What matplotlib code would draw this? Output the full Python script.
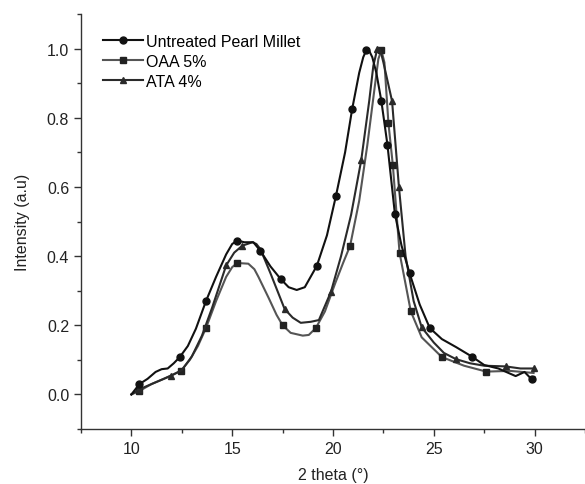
import matplotlib
matplotlib.use("Agg")
import matplotlib.pyplot as plt
from matplotlib.ticker import MultipleLocator

plt.rcParams["font.family"] = ["Liberation Sans", "DejaVu Sans"]

# Untreated Pearl Millet
x_unt = [10.0, 10.4, 10.8, 11.2, 11.5, 11.8, 12.1, 12.4, 12.8, 13.2, 13.7, 14.2,
         14.7, 15.0, 15.25, 15.6, 16.05, 16.4, 16.9, 17.4, 17.8, 18.2, 18.6, 19.2,
         19.7, 20.15, 20.6, 20.95, 21.3, 21.5, 21.65, 21.8, 21.95, 22.15, 22.4, 22.7,
         23.07, 23.4, 23.8, 24.3, 24.8, 25.4, 26.1, 26.9, 27.5, 28.2, 29.06, 29.5,
         29.85, 30.0]
y_unt = [0.0, 0.03, 0.045, 0.065, 0.073, 0.075, 0.09, 0.108, 0.14, 0.19, 0.27, 0.34,
         0.405, 0.435, 0.445, 0.44, 0.44, 0.415, 0.37, 0.334, 0.31, 0.302, 0.31, 0.372,
         0.46, 0.575, 0.70, 0.825, 0.93, 0.975, 0.995, 0.993, 0.975, 0.93, 0.848, 0.722,
         0.522, 0.43, 0.35, 0.26, 0.192, 0.16, 0.137, 0.109, 0.085, 0.075, 0.053, 0.065,
         0.044, 0.05]
mkx_unt = [10.4, 12.4, 13.7, 15.25, 16.4, 17.4, 19.2, 20.15, 20.95, 21.65, 22.4,
           22.7, 23.07, 23.8, 24.8, 26.9, 29.85]

# OAA 5%
x_oaa = [10.0, 10.4, 11.0, 11.6, 12.45, 12.9, 13.3, 13.7, 14.2, 14.7, 15.0, 15.25,
         15.8, 16.1, 16.3, 16.8, 17.2, 17.5, 17.9, 18.5, 18.8, 19.15, 19.6, 20.1, 20.5,
         20.85, 21.3, 21.7, 22.05, 22.25, 22.4, 22.55, 22.75, 22.97, 23.3, 23.86, 24.4,
         25.4, 26.5, 27.6, 28.8, 29.95]
y_oaa = [0.0, 0.01, 0.03, 0.045, 0.068, 0.10, 0.14, 0.192, 0.27, 0.34, 0.368, 0.38,
         0.378, 0.362, 0.34, 0.28, 0.23, 0.20, 0.178, 0.17, 0.172, 0.192, 0.24, 0.32,
         0.38, 0.43, 0.56, 0.72, 0.88, 0.97, 0.995, 0.96, 0.784, 0.662, 0.41, 0.24,
         0.165, 0.108, 0.083, 0.066, 0.068, 0.062]
mkx_oaa = [10.4, 12.45, 13.7, 15.25, 17.5, 19.15, 20.85, 22.4, 22.75, 22.97, 23.3,
           23.86, 25.4, 27.6]

# ATA 4%
x_ata = [10.0, 10.4, 11.0, 11.97, 12.5, 13.0, 13.5, 14.0, 14.7, 15.1, 15.5, 16.0,
         16.2, 16.4, 16.9, 17.6, 18.0, 18.4, 18.9, 19.3, 19.9, 20.4, 20.9, 21.4, 21.8,
         22.0, 22.2, 22.35, 22.5, 22.93, 23.27, 23.6, 24.0, 24.4, 25.0, 25.5, 26.1,
         26.8, 27.5, 28.56, 29.3, 29.95]
y_ata = [0.0, 0.015, 0.03, 0.054, 0.07, 0.11, 0.17, 0.25, 0.373, 0.41, 0.43, 0.44,
         0.435, 0.42, 0.35, 0.247, 0.222, 0.207, 0.21, 0.215, 0.297, 0.40, 0.52, 0.677,
         0.85, 0.95, 1.0, 0.995, 0.96, 0.848, 0.60, 0.40, 0.27, 0.194, 0.15, 0.12,
         0.102, 0.09, 0.083, 0.081, 0.075, 0.075]
mkx_ata = [10.4, 11.97, 14.7, 15.5, 17.6, 19.9, 21.4, 22.2, 22.93, 23.27, 24.4,
           26.1, 28.56, 29.95]

fig = plt.figure(figsize=(5.85, 4.85), dpi=100)
ax = fig.add_axes([81 / 585, 55 / 485, 504 / 585, 415 / 485])

ax.plot(x_unt, y_unt, color="#111111", lw=1.5, marker="o", ms=5,
        markevery=[x_unt.index(v) for v in mkx_unt],
        label="Untreated Pearl Millet", zorder=3)
ax.plot(x_oaa, y_oaa, color="#555555", lw=1.5, marker="s", ms=5,
        mfc="#222222", mec="#222222",
        markevery=[x_oaa.index(v) for v in mkx_oaa], label="OAA 5%", zorder=2)
ax.plot(x_ata, y_ata, color="#2a2a2a", lw=1.5, marker="^", ms=5,
        markevery=[x_ata.index(v) for v in mkx_ata], label="ATA 4%", zorder=2)

ax.set_xlim(7.5, 32.5)
ax.set_ylim(-0.1, 1.1)
ax.set_xticks([10, 15, 20, 25, 30])
ax.set_yticks([0.0, 0.2, 0.4, 0.6, 0.8, 1.0])
ax.xaxis.set_minor_locator(MultipleLocator(2.5))
ax.yaxis.set_minor_locator(MultipleLocator(0.1))
ax.yaxis.set_major_formatter(plt.FormatStrFormatter("%.1f"))

for s in ("top", "right"):
    ax.spines[s].set_visible(False)
for s in ("left", "bottom"):
    ax.spines[s].set_color("#333333")
    ax.spines[s].set_linewidth(1.0)
ax.tick_params(which="major", direction="out", length=5, width=1.0,
               colors="#333333", labelsize=11.5, labelcolor="#222222")
ax.tick_params(which="minor", direction="out", length=3, width=1.0, colors="#333333")

ax.set_xlabel("2 theta (°)", fontsize=11.5, color="#222222", labelpad=8)
ax.set_ylabel("Intensity (a.u)", fontsize=11.5, color="#222222", labelpad=12)

ax.legend(loc="upper left", bbox_to_anchor=(0.025, 0.975), frameon=False,
          fontsize=11.5, handlelength=2.5, handletextpad=0.2, labelspacing=0.3,
          borderaxespad=0.2)

fig.savefig("out.png", dpi=100)
